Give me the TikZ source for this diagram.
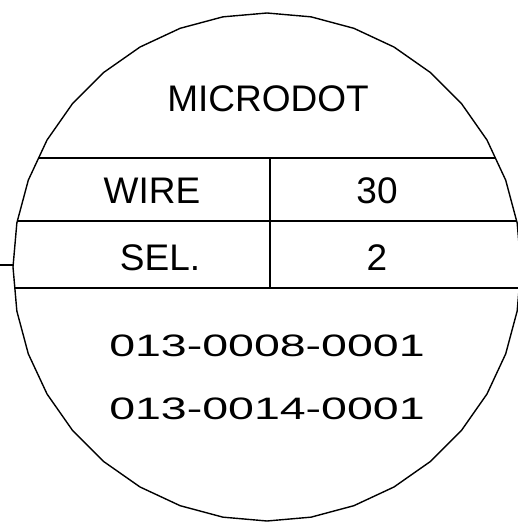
\documentclass[tikz,border=0pt]{standalone}
\usepackage{fontspec}
\setmainfont{Liberation Sans}
\newfontfamily\partfont[FakeStretch=1.5]{Liberation Sans}

\begin{document}
\begin{tikzpicture}[x=1pt, y=-1pt, line width=1.4pt,
        label/.style={inner sep=0pt, font=\fontsize{37}{37}\selectfont},
        partno/.style={inner sep=0pt, font=\partfont\fontsize{31}{31}\selectfont}]
        \useasboundingbox (0, 0) rectangle (518, 524);

        \coordinate (O) at (267, 267);

        % circle drawn as 36-sided outline
        \draw plot[samples=37, domain=0:360] ({267 + 254*cos(\x)}, {267 + 254*sin(\x)}) -- cycle;

        \begin{scope}
        \clip plot[samples=37, domain=0:360] ({267 + 254*cos(\x)}, {267 + 254*sin(\x)}) -- cycle;
        \draw (0, 158) -- (518, 158);
        \draw (0, 221) -- (518, 221);
        \draw (0, 288) -- (518, 288);
        \end{scope}
        \draw (270, 158) -- (270, 288);
        \draw (0, 265) -- (13, 265);

        \node[label] (title) at (268, 99) {MICRODOT};
        \node[label] (wire) at (152, 191) {WIRE};
        \node[label] (wireval) at (377, 191) {30};
        \node[label] (sel) at (160, 258) {SEL.};
        \node[label] (selval) at (377, 258) {2};
        \node[partno] (partA) at (267, 346) {013-0008-0001};
        \node[partno] (partB) at (267, 409) {013-0014-0001};
\end{tikzpicture}
\end{document}
